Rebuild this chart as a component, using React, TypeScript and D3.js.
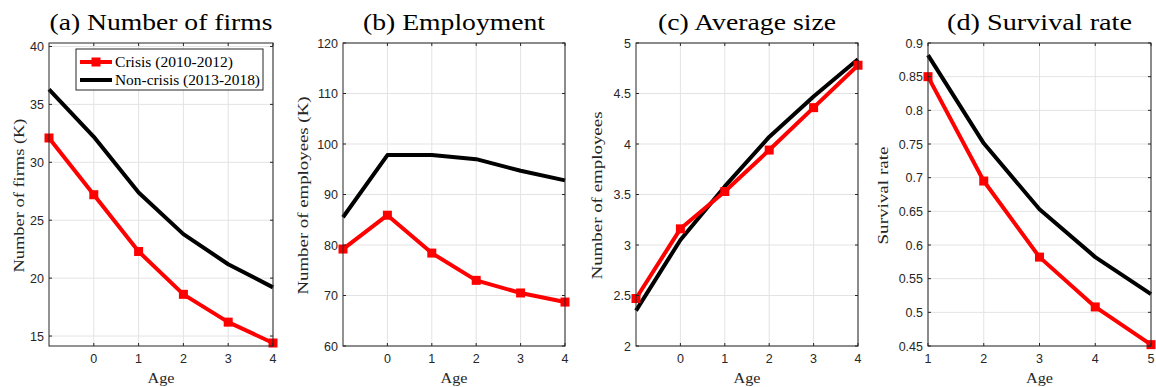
import React from "react";
import * as d3 from "d3";

const WIDTH = 1156;
const HEIGHT = 387;

const AGES = [-1, 0, 1, 2, 3, 4];
const SURV_AGES = [1, 2, 3, 4, 5];

const firmsCrisis = [32.1, 27.2, 22.3, 18.6, 16.2, 14.4];
const firmsNormal = [36.3, 32.2, 27.4, 23.8, 21.2, 19.2];

const empCrisis = [79.2, 85.9, 78.4, 73.0, 70.5, 68.7];
const empNormal = [85.5, 97.8, 97.8, 97.0, 94.7, 92.8];

const sizeCrisis = [2.47, 3.16, 3.53, 3.94, 4.36, 4.78];
const sizeNormal = [2.35, 3.05, 3.58, 4.07, 4.47, 4.84];

const survCrisis = [0.85, 0.695, 0.582, 0.508, 0.452];
const survNormal = [0.882, 0.751, 0.653, 0.582, 0.527];

const LEGEND = ["Crisis (2010-2012)", "Non-crisis (2013-2018)"];

const SERIF = "'Liberation Serif', 'Times New Roman', serif";
const SANS = "'Liberation Sans', Arial, sans-serif";
const AXIS = "#262626";

const PANELS = [
  {
    title: "(a) Number of firms", titleLen: 223,
    ylabel: "Number of firms (K)", ylabelLen: 154, ylabelX: 24,
    left: 49, right: 273,
    x: AGES, xDomain: [-1, 4], xTicks: [0, 1, 2, 3, 4],
    yDomain: [14.14, 40.3], yTicks: [15, 20, 25, 30, 35, 40],
    crisis: firmsCrisis, normal: firmsNormal, legend: true
  },
  {
    title: "(b) Employment", titleLen: 182,
    ylabel: "Number of employees (K)", ylabelLen: 198, ylabelX: 308,
    left: 343, right: 565,
    x: AGES, xDomain: [-1, 4], xTicks: [0, 1, 2, 3, 4],
    yDomain: [60, 120], yTicks: [60, 70, 80, 90, 100, 110, 120],
    crisis: empCrisis, normal: empNormal, legend: false
  },
  {
    title: "(c) Average size", titleLen: 178,
    ylabel: "Number of employees", ylabelLen: 168, ylabelX: 602,
    left: 636, right: 858,
    x: AGES, xDomain: [-1, 4], xTicks: [0, 1, 2, 3, 4],
    yDomain: [2, 5], yTicks: [2, 2.5, 3, 3.5, 4, 4.5, 5],
    crisis: sizeCrisis, normal: sizeNormal, legend: false
  },
  {
    title: "(d) Survival rate", titleLen: 185,
    ylabel: "Survival rate", ylabelLen: 98, ylabelX: 888,
    left: 928, right: 1151,
    x: SURV_AGES, xDomain: [1, 5], xTicks: [1, 2, 3, 4, 5],
    yDomain: [0.45, 0.9], yTicks: [0.45, 0.5, 0.55, 0.6, 0.65, 0.7, 0.75, 0.8, 0.85, 0.9],
    crisis: survCrisis, normal: survNormal, legend: false
  }
];

const TOP = 43;
const BOTTOM = 346;

function Panel({ p }: { p: any }) {
  const xs = d3.scaleLinear().domain(p.xDomain).range([p.left, p.right]);
  const ys = d3.scaleLinear().domain(p.yDomain).range([BOTTOM, TOP]);
  const line = d3
    .line<number>()
    .x((_, i) => xs(p.x[i]))
    .y(d => ys(d));
  const cx = (p.left + p.right) / 2;
  const fmt = (v: number) => String(+v.toFixed(2));

  return (
    <g>
      <rect x={p.left} y={TOP} width={p.right - p.left} height={BOTTOM - TOP} fill="#fff" />
      {p.xTicks.map((t: number) => (
        <line key={"gx" + t} x1={xs(t)} x2={xs(t)} y1={TOP} y2={BOTTOM} stroke="#e3e3e3" strokeWidth={1} />
      ))}
      {p.yTicks.map((t: number) => (
        <line key={"gy" + t} x1={p.left} x2={p.right} y1={ys(t)} y2={ys(t)} stroke="#e3e3e3" strokeWidth={1} />
      ))}
      <path d={line(p.normal) || ""} fill="none" stroke="#000" strokeWidth={4} strokeLinejoin="round" />
      <path d={line(p.crisis) || ""} fill="none" stroke="#ff0000" strokeWidth={4} strokeLinejoin="round" />
      {p.crisis.map((v: number, i: number) => (
        <rect key={"m" + i} x={xs(p.x[i]) - 4.5} y={ys(v) - 4.5} width={9} height={9} fill="#ff0000" />
      ))}
      <rect x={p.left} y={TOP} width={p.right - p.left} height={BOTTOM - TOP} fill="none" stroke={AXIS} strokeWidth={1} />
      {p.xTicks.map((t: number) => (
        <g key={"tx" + t}>
          <line x1={xs(t)} x2={xs(t)} y1={BOTTOM} y2={BOTTOM - 3} stroke={AXIS} />
          <line x1={xs(t)} x2={xs(t)} y1={TOP} y2={TOP + 3} stroke={AXIS} />
          <text x={xs(t)} y={BOTTOM + 17} textAnchor="middle" fontFamily={SANS} fontSize={12.5} fill={AXIS}>
            {t}
          </text>
        </g>
      ))}
      {p.yTicks.map((t: number) => (
        <g key={"ty" + t}>
          <line x1={p.left} x2={p.left + 3} y1={ys(t)} y2={ys(t)} stroke={AXIS} />
          <line x1={p.right} x2={p.right - 3} y1={ys(t)} y2={ys(t)} stroke={AXIS} />
          <text x={p.left - 5} y={ys(t) + 4.5} textAnchor="end" fontFamily={SANS} fontSize={12.5} fill={AXIS}>
            {fmt(t)}
          </text>
        </g>
      ))}
      <text
        x={cx} y={30} textAnchor="middle" fontFamily={SERIF} fontSize={23} fill="#000"
        textLength={p.titleLen} lengthAdjust="spacingAndGlyphs"
      >
        {p.title}
      </text>
      <text
        x={cx} y={383} textAnchor="middle" fontFamily={SERIF} fontSize={15.5} fill={AXIS}
        textLength={27} lengthAdjust="spacingAndGlyphs"
      >
        Age
      </text>
      <text
        transform={`translate(${p.ylabelX},${(TOP + BOTTOM) / 2 + 1}) rotate(-90)`}
        textAnchor="middle"
        fontFamily={SERIF}
        fontSize={15.5}
        fill={AXIS}
        textLength={p.ylabelLen}
        lengthAdjust="spacingAndGlyphs"
      >
        {p.ylabel}
      </text>
      {p.legend && (
        <g>
          <rect x={76} y={49} width={187} height={41} fill="#fff" stroke={AXIS} strokeWidth={1} />
          <line x1={80} x2={112} y1={62} y2={62} stroke="#ff0000" strokeWidth={4} />
          <rect x={91.5} y={57.5} width={9} height={9} fill="#ff0000" />
          <text x={115} y={66.5} fontFamily={SERIF} fontSize={14} fill="#000" textLength={118} lengthAdjust="spacingAndGlyphs">
            {LEGEND[0]}
          </text>
          <line x1={80} x2={112} y1={80} y2={80} stroke="#000" strokeWidth={4} />
          <text x={115} y={85} fontFamily={SERIF} fontSize={14} fill="#000" textLength={145} lengthAdjust="spacingAndGlyphs">
            {LEGEND[1]}
          </text>
        </g>
      )}
    </g>
  );
}

export default function App() {
  return (
    <svg width={WIDTH} height={HEIGHT} style={{ display: "block", position: "absolute", left: 0, top: 0 }}>
      <rect width={WIDTH} height={HEIGHT} fill="#fff" />
      {PANELS.map(p => (
        <Panel key={p.title} p={p} />
      ))}
    </svg>
  );
}
